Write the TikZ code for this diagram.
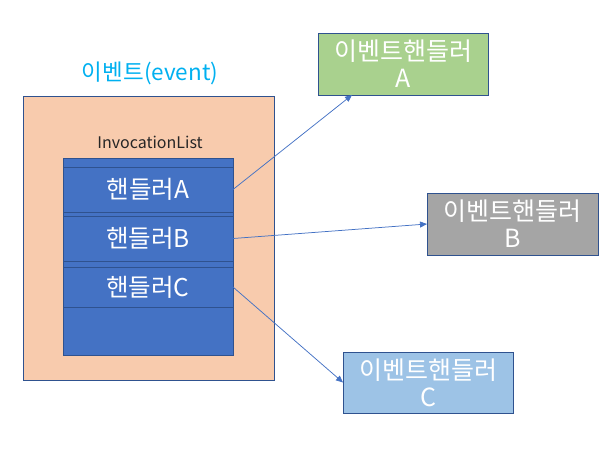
\documentclass[tikz,border=0pt]{standalone}
\usepackage{fontspec}
\setmainfont{Noto Sans CJK KR}
\usetikzlibrary{
  arrows.meta,
  calc,
  positioning,
}
\definecolor{titleblue}{HTML}{00B0F0}
\definecolor{peach}{HTML}{F8CBAD}
\definecolor{listblue}{HTML}{4472C4}
\definecolor{frameblue}{HTML}{2F528F}
\definecolor{handlergreen}{HTML}{A9D18E}
\definecolor{handlergray}{HTML}{A5A5A5}
\definecolor{handlerlight}{HTML}{9DC3E6}
\definecolor{labeltext}{HTML}{262626}
\tikzset{
  >={Triangle[length=7pt,width=6pt]},
  outline/.style={draw=frameblue, line width=0.8pt, outer sep=0pt, inner sep=0pt, anchor=north west},
  handlerrow/.style={outline, fill=listblue, text=white, minimum width=170pt,
    font=\fontsize{24.5}{28}\selectfont},
  evbox/.style={outline, text=white, align=center, minimum width=170pt, minimum height=62pt,
    font=\fontsize{25}{27}\selectfont},
  link/.style={->, draw=listblue, line width=0.75pt},
}

\begin{document}
\begin{tikzpicture}[x=1pt, y=-1pt]
  \useasboundingbox (0,0) rectangle (613,455);
  \node[outline, fill=peach, minimum width=251pt, minimum height=284pt] (event) at (23,96) {};
  \node[text=titleblue, font=\fontsize{22.5}{26}\selectfont] (eventtitle) at (150,73) {이벤트(event)};
  \node[text=labeltext, font=\fontsize{16}{19}\selectfont] (listname) at (150,142) {InvocationList};
  \node[outline, fill=listblue, minimum width=170pt, minimum height=197pt] (list) at (63,158) {};
  \node[handlerrow, minimum height=45pt] (hA) at (63,167) {핸들러A};
  \node[handlerrow, minimum height=45pt, below=4pt of hA] (hB) {핸들러B};
  \node[handlerrow, minimum height=40pt, below=6pt of hB] (hC) {핸들러C};

  \node[evbox, fill=handlergreen] (evA) at (318,33) {이벤트핸들러\\A};
  \node[evbox, fill=handlergray, minimum width=171pt] (evB) at (427,193) {이벤트핸들러\\B};
  \node[evbox, fill=handlerlight, minimum height=61pt] (evC) at (343,352) {이벤트핸들러\\C};

  \draw[link] (hA.east) -- ($(evA.south west)!0.2!(evA.south east)$);
  \draw[link] (hB.east) -- (evB.west);
  \draw[link] (hC.east) -- (evC.west);
\end{tikzpicture}
\end{document}
